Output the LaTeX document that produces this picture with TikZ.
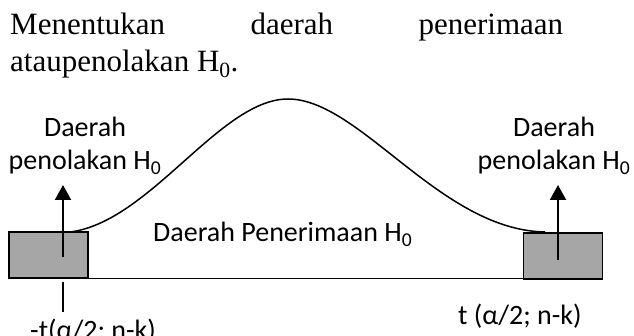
\documentclass[tikz,border=0pt]{standalone}
\usepackage{fontspec}
\setmainfont{Liberation Serif}
\newfontfamily\calibri{Carlito}
\usetikzlibrary{arrows.meta}
\definecolor{boxgray}{RGB}{166,166,166}
\tikzset{
    tailbox/.style={draw=black, line width=1.5pt, fill=boxgray, minimum width=79pt, minimum height=46pt, inner sep=0pt},
    lbl/.style={font=\calibri\fontsize{28pt}{33pt}\selectfont, inner sep=0pt, anchor=base},
    headtxt/.style={font=\fontsize{31pt}{37pt}\selectfont, inner sep=0pt, anchor=base west},
    upArrow/.style={line width=2pt, -{Triangle[width=16pt,length=15pt]}},
}
\begin{document}
\begin{tikzpicture}[x=1pt,y=-1pt]
    \useasboundingbox (0,0) rectangle (634,336);

    % heading text
    \node[headtxt] (head1) at (10,35) {\makebox[553pt][s]{Menentukan daerah penerimaan}};
    \node[headtxt] (head2) at (10,72) {ataupenolakan H\textsubscript{0}.};

    % the two rejection tails
    \node[tailbox] (boxL) at (48.5,255) {};
    \node[tailbox] (boxR) at (563,256) {};

    % axis between the tails
    \draw[line width=1.5pt] (boxL.south east) -- (boxL.south east -| boxR.west);

    % density curve
    \coordinate (cL) at (70,232);
    \coordinate (peak) at (288,99);
    \coordinate (cR) at (545,232);
    \draw[line width=1.5pt] (cL) .. controls (150,222) and (220,99) .. (peak)
        .. controls (360,99) and (440,230) .. (cR);

    % arrows out of the tails
    \coordinate (aL) at (63,257);
    \coordinate (tL) at (63,185);
    \coordinate (aR) at (558,260);
    \coordinate (tR) at (558,185);
    \draw[upArrow] (aL) -- (tL);
    \draw[upArrow] (aR) -- (tR);

    % tick under the left tail
    \coordinate (kT) at (63,282);
    \coordinate (kB) at (63,312);
    \draw[line width=1.5pt] (kT) -- (kB);

    % labels
    \node[lbl] (dL) at (85,137) {Daerah};
    \node[lbl] (pL) at (85,170) {penolakan H\textsubscript{0}};
    \node[lbl] (dR) at (554,137) {Daerah};
    \node[lbl] (pR) at (554,170) {penolakan H\textsubscript{0}};
    \node[lbl, anchor=base west] (acc) at (153,242) {Daerah Penerimaan H\textsubscript{0}};
    \node[lbl, anchor=base west] (critL) at (30,340) {-t(α/2; n-k)};
    \node[lbl, anchor=base west] (critR) at (458,325) {t (α/2; n-k)};

\end{tikzpicture}
\end{document}
